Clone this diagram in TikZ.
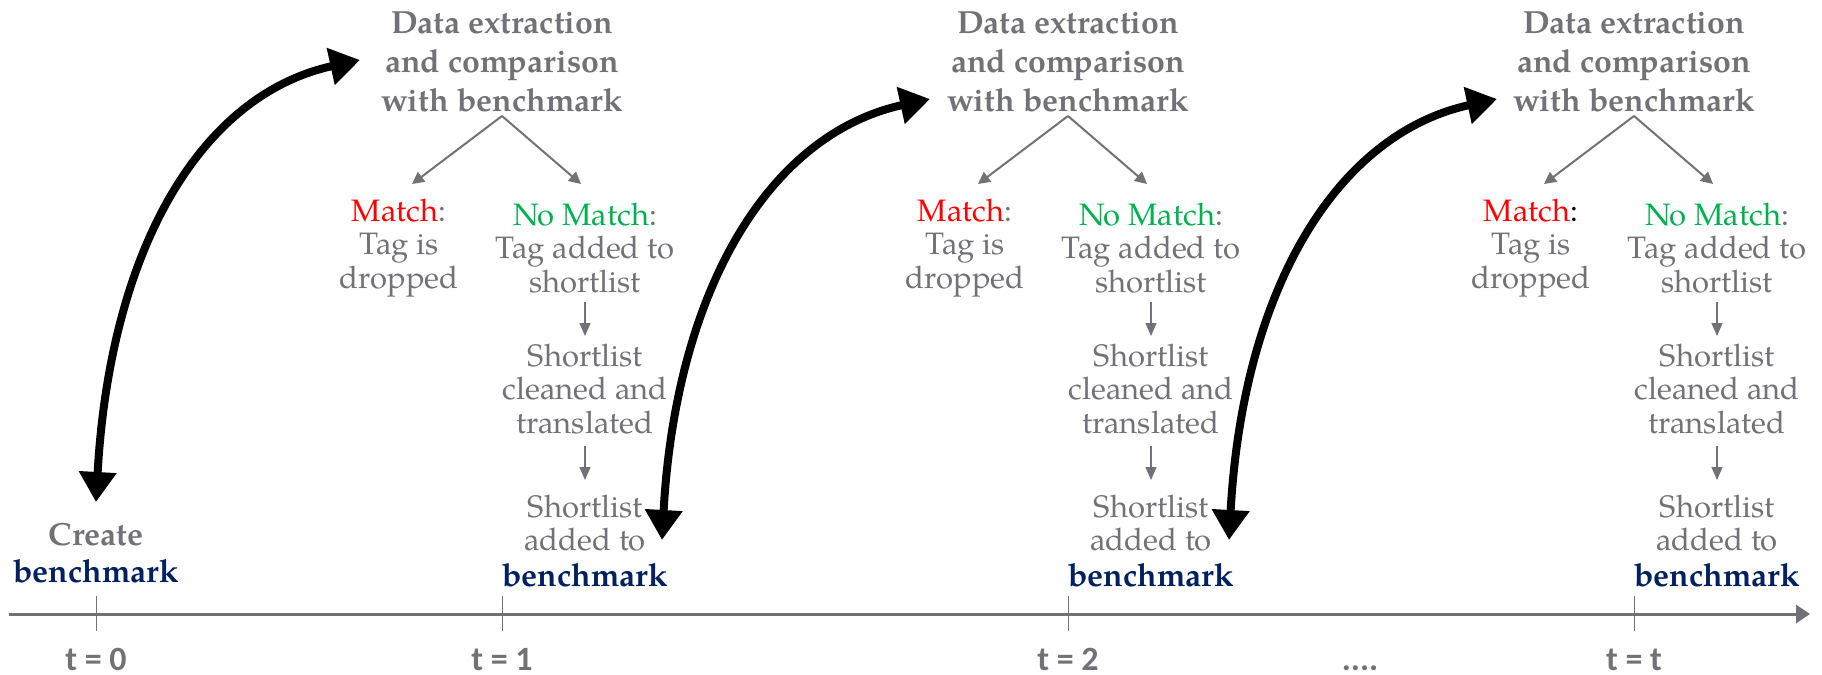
\documentclass[tikz,border=0pt]{standalone}
\usepackage{fontspec}
\setmainfont{TeX Gyre Pagella}
\newfontfamily\tfont{Carlito}
\usetikzlibrary{arrows.meta}
\definecolor{txtgray}{RGB}{114,114,118}
\definecolor{navy}{RGB}{0,32,96}
\definecolor{mred}{RGB}{255,0,0}
\definecolor{mgreen}{RGB}{0,176,80}
\newcommand{\bm}{{\fontsize{16}{19}\selectfont\bfseries\color{navy}benchmark}}
\begin{document}
\begin{tikzpicture}[x=0.5pt,y=-0.5pt,
  titlebox/.style={align=center, text=txtgray, font=\fontsize{16}{19.5}\selectfont\bfseries, inner sep=0pt},
  body/.style={align=center, text=txtgray, font=\fontsize{15.5}{16.7}\selectfont, inner sep=0pt},
  garrow/.style={draw=txtgray, line width=1pt, -{Triangle[length=6pt,width=6pt]}, fill=txtgray},
  varrow/.style={draw=txtgray, line width=0.7pt, -{Triangle[length=6.5pt,width=5.5pt]}, fill=txtgray},
  bigarrow/.style={line width=4pt, {Triangle[length=15pt,width=18pt]}-{Triangle[length=15pt,width=18pt]}},
  tlabel/.style={text=txtgray, font=\tfont\fontsize{17}{20}\selectfont\bfseries, inner sep=0pt, anchor=base},
]
\useasboundingbox (0,0) rectangle (1822,675);

% timeline
\coordinate (axS) at (9,614);
\coordinate (axE) at (1810,614);
\draw[draw=txtgray, line width=1.5pt, -{Triangle[length=7pt,width=9pt]}, fill=txtgray] (axS) -- (axE);

% t = 0
\coordinate (tk0) at (96,614);
\draw[txtgray, line width=0.5pt] (96,596) -- (96,631);
\node[tlabel] (t0) at (96,670) {t = 0};
\node[titlebox, font=\fontsize{16}{18.5}\selectfont\bfseries] (create) at (96,553) {Create\\\bm};

\foreach \T/\i/\cc in {502/1/txtgray,1068/2/txtgray,1634/3/black}{
  \node[titlebox] (title\i) at (\T,62) {Data extraction\\and comparison\\with benchmark};
  \node[body] (match\i) at ({\T-103},248) {{\color{mred}Match}{\color{\cc}:}\\Tag is\\dropped};
  \node[body] (nomatch\i) at ({\T+83},248) {{\color{mgreen}No Match}:\\Tag added to\\shortlist};
  \node[body] (clean\i) at ({\T+83},389) {Shortlist\\cleaned and\\translated};
  \node[body] (added\i) at ({\T+83},541) {Shortlist\\added to\\[1pt]\bm};
  \coordinate (s\i) at (\T,116);
  \coordinate (ml\i) at ({\T-90},184);
  \coordinate (mr\i) at ({\T+79},184);
  \draw[garrow] (s\i) -- (ml\i);
  \draw[garrow] (s\i) -- (mr\i);
  \coordinate (va\i) at ({\T+83},302);
  \coordinate (vb\i) at ({\T+83},336);
  \coordinate (vc\i) at ({\T+83},446);
  \coordinate (vd\i) at ({\T+83},480);
  \draw[varrow] (va\i) -- (vb\i);
  \draw[varrow] (vc\i) -- (vd\i);
  \draw[txtgray, line width=0.5pt] (\T,596) -- (\T,631);
}
\node[tlabel] (t1) at (502,670) {t = 1};
\node[tlabel] (t2) at (1068,670) {t = 2};
\node[tlabel] (t3) at (1634,670) {t = t};
\node[tlabel] (dots) at (1360,670) {....};

% big curved arrows
\coordinate (b1) at (96,502);
\coordinate (e1) at (360,60);
\coordinate (b2) at (662,540);
\coordinate (e2) at (930,99);
\coordinate (b3) at (1229,540);
\coordinate (e3) at (1497,99);
\draw[bigarrow] (b1) .. controls (110,250) and (200,95) .. (e1);
\draw[bigarrow] (b2) .. controls (676,288) and (770,134) .. (e2);
\draw[bigarrow] (b3) .. controls (1243,288) and (1337,134) .. (e3);
\end{tikzpicture}
\end{document}
